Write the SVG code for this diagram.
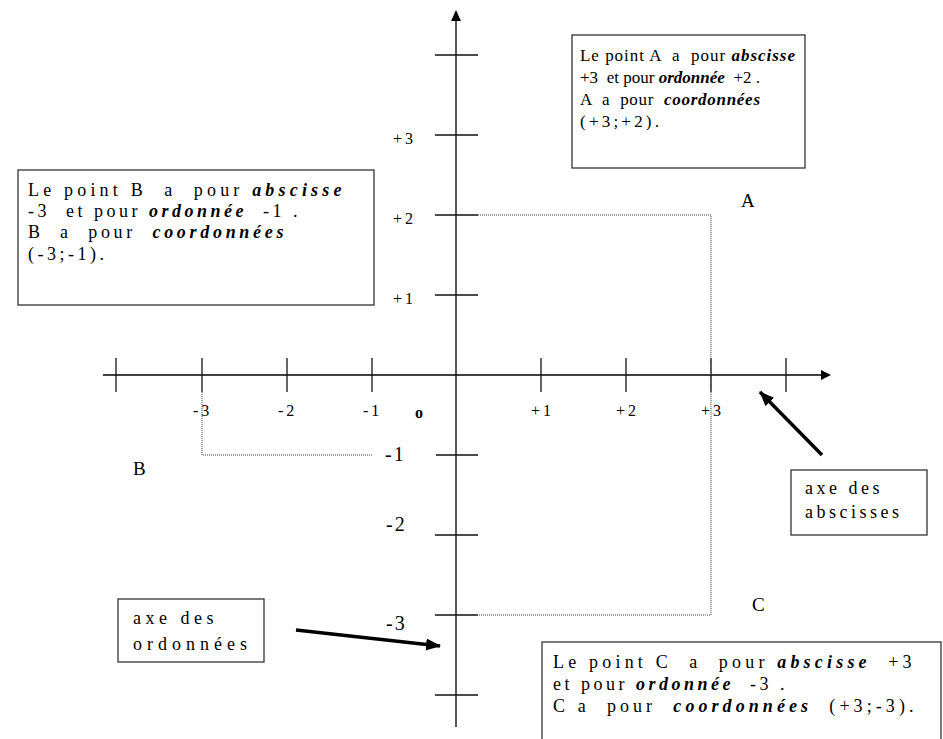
<svg xmlns="http://www.w3.org/2000/svg" width="943" height="739" viewBox="0 0 943 739">
<style>
.ax{stroke:#000;stroke-width:1.3;fill:none}
.tk{stroke:#111;stroke-width:1.3}
.dot{stroke:#444;stroke-width:1;stroke-dasharray:1 1;fill:none}
.box{fill:#fff;stroke:#333;stroke-width:1.3}
.t{font-family:"Liberation Serif","Times New Roman",serif;fill:#000}
.bt{font-size:18px;letter-spacing:3.5px}
.ba{font-size:17px;letter-spacing:1px}
.bi{font-weight:bold;font-style:italic}
.lx{font-size:16px;letter-spacing:3px}
.ly{font-size:20px;letter-spacing:2px}
.pt{font-size:19px}
.arr{stroke:#000;stroke-width:3.5;fill:none}
</style>
<defs>
<marker id="ah" markerUnits="userSpaceOnUse" markerWidth="16" markerHeight="14" refX="14" refY="7" orient="auto">
<path d="M0,1 L15,7 L0,13 Z" fill="#000"/>
</marker>
</defs>
<g id="axes">
<line class="ax" x1="103" y1="375" x2="824" y2="375"/>
<path d="M821,370 L831,375 L821,380 Z" fill="#000"/>
<line class="ax" x1="456" y1="727" x2="456" y2="18"/>
<path d="M451,21 L456,10 L461,21 Z" fill="#000"/>
<g id="x-ticks">
<line class="tk" x1="116" y1="358" x2="116" y2="392"/>
<line class="tk" x1="202" y1="358" x2="202" y2="392"/>
<line class="tk" x1="287" y1="358" x2="287" y2="392"/>
<line class="tk" x1="372" y1="358" x2="372" y2="392"/>
<line class="tk" x1="541" y1="358" x2="541" y2="392"/>
<line class="tk" x1="626" y1="358" x2="626" y2="392"/>
<line class="tk" x1="711" y1="358" x2="711" y2="392"/>
<line class="tk" x1="786" y1="358" x2="786" y2="392"/>
</g>
<g id="y-ticks">
<line class="tk" x1="435" y1="55" x2="478" y2="55"/>
<line class="tk" x1="435" y1="135" x2="478" y2="135"/>
<line class="tk" x1="435" y1="215" x2="478" y2="215"/>
<line class="tk" x1="435" y1="295" x2="478" y2="295"/>
<line class="tk" x1="436" y1="455" x2="478" y2="455"/>
<line class="tk" x1="435" y1="535" x2="478" y2="535"/>
<line class="tk" x1="435" y1="615" x2="478" y2="615"/>
<line class="tk" x1="435" y1="695" x2="478" y2="695"/>
</g>
<g id="x-labels" class="t lx">
<text x="193" y="416">-3</text>
<text x="278" y="416">-2</text>
<text x="363" y="416">-1</text>
<text x="415" y="418" font-weight="bold">o</text>
<text x="531" y="416">+1</text>
<text x="616" y="416">+2</text>
<text x="701" y="416">+3</text>
</g>
<g id="y-labels" class="t">
<text class="lx" x="393" y="144">+3</text>
<text class="lx" x="393" y="224">+2</text>
<text class="lx" x="393" y="304">+1</text>
<text class="ly" x="385" y="461">-1</text>
<text class="ly" x="386" y="531">-2</text>
<text class="ly" x="386" y="630">-3</text>
</g>
</g>
<g id="guides">
<polyline class="dot" points="478,215 711,215 711,615 478,615"/>
<polyline class="dot" points="202,392 202,455 372,455"/>
</g>
<g id="points" class="t pt">
<text x="741" y="207">A</text>
<text x="133" y="475">B</text>
<text x="752" y="611">C</text>
</g>
<g id="box-A">
<rect class="box" x="572" y="35" width="233" height="133"/>
<text class="t ba" xml:space="preserve" x="580" y="61" textLength="216" lengthAdjust="spacing">Le point A  a  pour <tspan class="bi">abscisse</tspan></text>
<text class="t ba" xml:space="preserve" x="580" y="83" textLength="181" lengthAdjust="spacing">+3  et pour <tspan class="bi">ordonnée</tspan>  +2 .</text>
<text class="t ba" xml:space="preserve" x="580" y="105" textLength="181" lengthAdjust="spacing">A  a  pour  <tspan class="bi">coordonnées</tspan></text>
<text class="t ba" xml:space="preserve" x="580" y="127" textLength="80" lengthAdjust="spacing">(+3;+2).</text>
</g>
<g id="box-B">
<rect class="box" x="18" y="170" width="356" height="135"/>
<text class="t bt" xml:space="preserve" x="28" y="196" textLength="317" lengthAdjust="spacing">Le point B  a  pour <tspan class="bi">abscisse</tspan></text>
<text class="t bt" xml:space="preserve" x="28" y="217">-3  et pour <tspan class="bi">ordonnée</tspan>  -1 .</text>
<text class="t bt" xml:space="preserve" x="28" y="238" textLength="259" lengthAdjust="spacing">B  a  pour  <tspan class="bi">coordonnées</tspan></text>
<text class="t bt" xml:space="preserve" x="28" y="260">(-3;-1).</text>
</g>
<g id="box-C">
<rect class="box" x="542" y="642" width="399" height="110"/>
<text class="t bt" xml:space="preserve" x="553" y="668" textLength="362" lengthAdjust="spacing">Le point C  a  pour <tspan class="bi">abscisse</tspan>  +3</text>
<text class="t bt" xml:space="preserve" x="553" y="690">et pour <tspan class="bi">ordonnée</tspan>  -3 .</text>
<text class="t bt" xml:space="preserve" x="553" y="712" textLength="364" lengthAdjust="spacing">C a  pour  <tspan class="bi">coordonnées</tspan>  (+3;-3).</text>
</g>
<g id="box-abscisses">
<rect class="box" x="791" y="470" width="136" height="65"/>
<text class="t bt" x="805" y="494">axe des</text>
<text class="t bt" x="805" y="518">abscisses</text>
</g>
<g id="box-ordonnees">
<rect class="box" x="118" y="599" width="146" height="63"/>
<text class="t bt" x="133" y="624" style="letter-spacing:4.5px">axe des</text>
<text class="t bt" x="133" y="650" style="letter-spacing:5px">ordonnées</text>
</g>
<g id="connectors">
<line class="arr" x1="822" y1="455" x2="760" y2="392" marker-end="url(#ah)"/>
<line class="arr" x1="296" y1="630" x2="440" y2="646" marker-end="url(#ah)"/>
</g>
</svg>
